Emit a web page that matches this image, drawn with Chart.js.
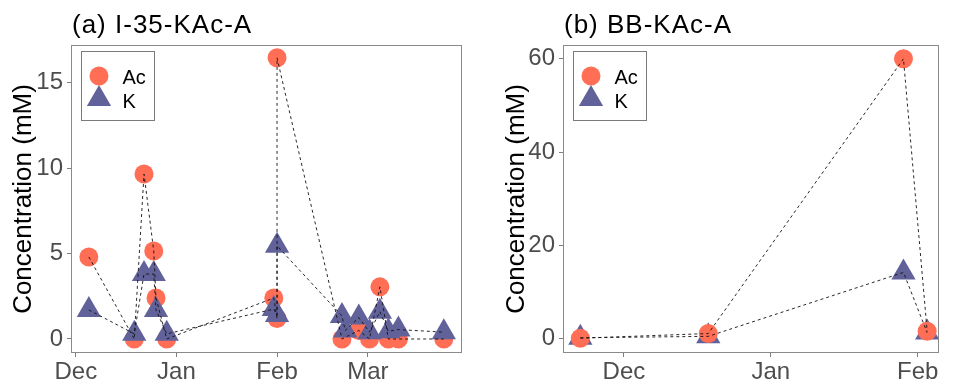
<!DOCTYPE html>
<html><head><meta charset="utf-8">
<script src="https://cdn.jsdelivr.net/npm/chart.js@4/dist/chart.umd.min.js"></script>
<style>
html,body{margin:0;padding:0;background:#fff;width:953px;height:387px;overflow:hidden}
canvas{position:absolute;top:0;display:block}
#ca{left:0} #cb{left:476px}
</style></head><body>
<canvas id="ca" width="476" height="387"></canvas>
<canvas id="cb" width="477" height="387"></canvas>
<script>
// ---- data (x = days since 1 Dec) ----
const monthTickDays = [0, 31, 62, 90];
const monthTickLabels = ['Dec', 'Jan', 'Feb', 'Mar'];
const yTicksA = [0, 5, 10, 15];
const yTicksB = [0, 20, 40, 60];
const panelTitles = ['(a) I-35-KAc-A', '(b) BB-KAc-A'];
const seriesNames = ['Ac', 'K'];
const yAxisTitle = 'Concentration (mM)';

const acDaysA   = [4, 18, 21, 24, 24.7, 28, 61, 62, 62, 82, 87.2, 90.5, 93.7, 96.3, 99.4, 113.4];
const acValuesA = [4.8, 0, 9.65, 5.15, 2.4, 0, 2.4, 1.2, 16.45, 0, 0.5, 0, 3.05, 0, 0, 0];
const kDaysA    = [4, 18, 21, 24, 24.7, 28, 61, 62, 62, 82, 83, 87.2, 90.5, 93.7, 96.3, 99.4, 113.4];
const kValuesA  = [1.7, 0.3, 3.8, 3.8, 1.7, 0.3, 1.75, 1.4, 5.45, 1.35, 0.5, 1.25, 0.4, 1.6, 0.45, 0.55, 0.4];

const acDaysB   = [-9.2, 17.8, 59, 64];
const acValuesB = [0.1, 1.1, 60, 1.6];
const kDaysB    = [-9.2, 17.8, 59, 64];
const kValuesB  = [0.2, 0.5, 14.2, 1.3];

const AC_COLOR = '#FF6E55';
const K_COLOR = '#62629A';
const FONT = '"Liberation Sans", Arial, sans-serif';

function pts(xs, ys) { return xs.map((x, i) => ({ x: x, y: ys[i] })); }

function panelPlugin(title) {
  return {
    id: 'panelDeco',
    afterDraw(chart) {
      const ctx = chart.ctx, a = chart.chartArea;
      ctx.save();
      // panel border
      ctx.strokeStyle = '#8a8a8a';
      ctx.lineWidth = 1;
      ctx.strokeRect(Math.round(a.left) + 0.5, Math.round(a.top) + 0.5,
                     Math.round(a.right - a.left) - 1, Math.round(a.bottom - a.top) - 1);
      // title
      ctx.fillStyle = '#000';
      ctx.font = '26px ' + FONT;
      if ('letterSpacing' in ctx) ctx.letterSpacing = '1px';
      ctx.textBaseline = 'alphabetic';
      ctx.textAlign = 'left';
      ctx.fillText(title, a.left + 1, 33);
      if ('letterSpacing' in ctx) ctx.letterSpacing = '0px';
      // legend
      const lx = a.left + 9.5, ly = a.top + 6;
      ctx.fillStyle = '#fff';
      ctx.fillRect(lx, ly, 73, 69);
      ctx.strokeStyle = '#7a7a7a';
      ctx.strokeRect(Math.round(lx) + 0.5, Math.round(ly) + 0.5, 73, 69);
      const mx = lx + 18.5;
      ctx.fillStyle = AC_COLOR;
      ctx.beginPath(); ctx.arc(mx, ly + 25, 9.5, 0, Math.PI * 2); ctx.fill();
      ctx.fillStyle = K_COLOR;
      const r = 14, ty = ly + 48;
      ctx.beginPath();
      ctx.moveTo(mx, ty - r);
      ctx.lineTo(mx + r * Math.sin(2 * Math.PI / 3), ty + r / 2);
      ctx.lineTo(mx - r * Math.sin(2 * Math.PI / 3), ty + r / 2);
      ctx.closePath(); ctx.fill();
      ctx.fillStyle = '#000';
      ctx.font = '20px ' + FONT;
      ctx.fillText(seriesNames[0], lx + 42, ly + 32.5);
      ctx.fillText(seriesNames[1], lx + 42, ly + 56.5);
      ctx.restore();
    }
  };
}

function makeChart(id, cfg) {
  const tickFont = { size: 24, family: FONT };
  const labelOf = {};
  monthTickDays.forEach((d, i) => labelOf[d] = monthTickLabels[i]);
  const lineDs = (data) => ({
    data: data, showLine: true, pointRadius: 0, borderColor: '#111', borderWidth: 0.9,
    borderDash: [3, 3], tension: 0, order: 0, clip: false
  });
  const ac = pts(cfg.acDays, cfg.acVals), k = pts(cfg.kDays, cfg.kVals);
  const datasets = [
    { data: ac, pointStyle: 'circle', pointRadius: 9.5, backgroundColor: AC_COLOR, pointBorderWidth: 0, borderWidth: 0, order: cfg.acOrder, clip: false },
    { data: k, pointStyle: 'triangle', pointRadius: 14, backgroundColor: K_COLOR, pointBorderWidth: 0, borderWidth: 0, order: cfg.kOrder, clip: false },
    lineDs(ac), lineDs(k)
  ];
  return new Chart(document.getElementById(id), {
    type: 'scatter',
    data: { datasets: datasets },
    options: {
      responsive: false, animation: false, events: [],
      devicePixelRatio: 1,
      layout: { padding: { left: 0, right: cfg.padRight, top: 45, bottom: 0 } },
      plugins: { legend: { display: false }, tooltip: { enabled: false } },
      scales: {
        x: {
          type: 'linear', min: cfg.xMin, max: cfg.xMax,
          afterBuildTicks: s => { s.ticks = monthTickDays.filter(v => v >= cfg.xMin && v <= cfg.xMax).map(v => ({ value: v })); },
          afterFit: s => { s.height = 34; },
          ticks: { callback: v => labelOf[v], color: '#4d4d4d', font: tickFont, padding: 1, maxRotation: 0, autoSkip: false },
          grid: { display: true, drawOnChartArea: false, drawTicks: true, tickLength: 4, color: '#7f7f7f' },
          border: { display: false }
        },
        y: {
          type: 'linear', min: cfg.yMin, max: cfg.yMax,
          afterBuildTicks: s => { s.ticks = cfg.yTicks.map(v => ({ value: v })); },
          afterFit: s => { s.width = cfg.yWidth; },
          ticks: { color: '#4d4d4d', font: tickFont, padding: 4 },
          grid: { display: true, drawOnChartArea: false, drawTicks: true, tickLength: 4, color: '#7f7f7f' },
          border: { display: false },
          title: { display: true, text: yAxisTitle, color: '#000', font: { size: 26, family: FONT }, padding: { top: cfg.titlePad, bottom: 0 } }
        }
      }
    },
    plugins: [panelPlugin(cfg.title)]
  });
}

makeChart('ca', {
  title: panelTitles[0], acDays: acDaysA, acVals: acValuesA, kDays: kDaysA, kVals: kValuesA,
  xMin: -1.5, xMax: 119, yMin: -0.82, yMax: 17.2, yTicks: yTicksA, yWidth: 71, padRight: 10,
  titlePad: 8.4, acOrder: 2, kOrder: 1
});
makeChart('cb', {
  title: panelTitles[1], acDays: acDaysB, acVals: acValuesB, kDays: kDaysB, kVals: kValuesB,
  xMin: -12.86, xMax: 66.5, yMin: -3.07, yMax: 62.96, yTicks: yTicksB, yWidth: 87, padRight: 1,
  titlePad: 25.4, acOrder: 1, kOrder: 2
});
</script>
</body></html>
